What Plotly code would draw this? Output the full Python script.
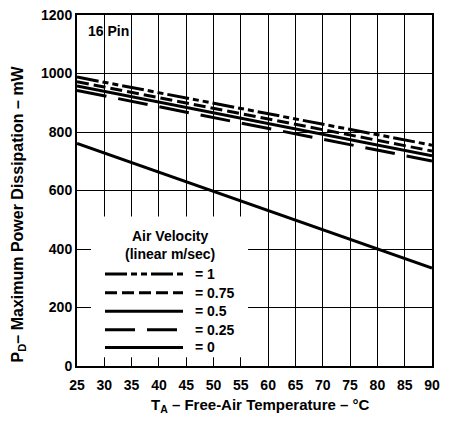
import plotly.graph_objects as go

# Data
temps = [25, 90]                      # free-air temperature, °C
pd_v1 = [988, 755]                    # air velocity = 1 m/s
pd_v075 = [972, 735]                  # = 0.75
pd_v05 = [957, 719]                   # = 0.5
pd_v025 = [942, 701]                  # = 0.25
pd_v0 = [761, 335]                    # = 0 (still air)

series_names = ["= 1", "= 0.75", "= 0.5", "= 0.25", "= 0"]
series_values = [pd_v1, pd_v075, pd_v05, pd_v025, pd_v0]
dash_styles = ["22px,4px,6px,4px,6px,4px", "12px,5px", "solid", "30px,12px", "solid"]

x_ticks = list(range(25, 95, 5))
y_ticks = list(range(0, 1400, 200))

FONT = "Liberation Sans, Arial, sans-serif"

fig = go.Figure()
for name, vals, dash in zip(series_names, series_values, dash_styles):
    fig.add_trace(go.Scatter(x=temps, y=vals, mode="lines", name=name,
                             line=dict(color="black", width=3, dash=dash),
                             showlegend=False, hoverinfo="skip"))

# plot area in px: x 77..432, y 7..366
def px_x(p):
    return (p - 77) / 355.0

def px_y(p):
    return (366 - p) / 359.0

shapes = [
    dict(type="rect", xref="paper", yref="paper",
         x0=px_x(91), x1=px_x(248), y0=px_y(357), y1=px_y(213),
         fillcolor="white", line=dict(width=0), layer="above"),
]
annotations = []
entry_y = [272, 291, 310, 329, 347]
for name, dash, ey in zip(series_names, dash_styles, entry_y):
    shapes.append(dict(type="line", xref="paper", yref="paper",
                       x0=px_x(105), x1=px_x(183), y0=px_y(ey), y1=px_y(ey),
                       line=dict(color="black", width=3, dash=dash), layer="above"))
    annotations.append(dict(text=name, xref="paper", yref="paper",
                            x=px_x(193), y=px_y(ey), xanchor="left", yanchor="middle",
                            showarrow=False, font=dict(size=14, family=FONT, color="black", weight="bold")))

annotations += [
    dict(text="Air Velocity", xref="paper", yref="paper", x=px_x(170), y=px_y(233),
         xanchor="center", yanchor="middle", showarrow=False,
         font=dict(size=14, family=FONT, color="black", weight="bold")),
    dict(text="(linear m/sec)", xref="paper", yref="paper", x=px_x(170), y=px_y(251),
         xanchor="center", yanchor="middle", showarrow=False,
         font=dict(size=14, family=FONT, color="black", weight="bold")),
    dict(text="16 Pin", xref="paper", yref="paper", x=px_x(86), y=px_y(23),
         xanchor="left", yanchor="middle", showarrow=False,
         font=dict(size=14, family=FONT, color="black", weight="bold")),
    dict(text="P<sub>D</sub>– Maximum Power Dissipation – mW", xref="paper", yref="paper",
         x=px_x(18), y=px_y(211), xanchor="center", yanchor="middle", textangle=-90,
         showarrow=False, font=dict(size=16, family=FONT, color="black", weight="bold")),
    dict(text="T<sub>A</sub> – Free-Air Temperature – °C", xref="paper", yref="paper",
         x=px_x(260), y=px_y(406), xanchor="center", yanchor="middle",
         showarrow=False, font=dict(size=15, family=FONT, color="black", weight="bold")),
]

fig.update_layout(
    width=453, height=422,
    margin=dict(l=77, r=21, t=7, b=56),
    paper_bgcolor="white", plot_bgcolor="white",
    shapes=shapes, annotations=annotations,
    showlegend=False,
)
fig.update_xaxes(range=[25, 90], tickvals=x_ticks, ticktext=[str(v) for v in x_ticks],
                 showgrid=True, gridcolor="black", gridwidth=1,
                 showline=True, linecolor="black", linewidth=2, mirror=True,
                 ticks="", zeroline=False, ticklabelstandoff=5,
                 tickfont=dict(size=14, family=FONT, color="black", weight="bold"))
fig.update_yaxes(range=[0, 1200], tickvals=y_ticks, ticktext=[str(v) for v in y_ticks],
                 showgrid=True, gridcolor="black", gridwidth=1,
                 showline=True, linecolor="black", linewidth=2, mirror=True,
                 ticks="", zeroline=False,
                 tickfont=dict(size=14, family=FONT, color="black", weight="bold"))

fig.write_html("out.html", config={"displayModeBar": False},
               post_script="document.body.style.margin='0';")
